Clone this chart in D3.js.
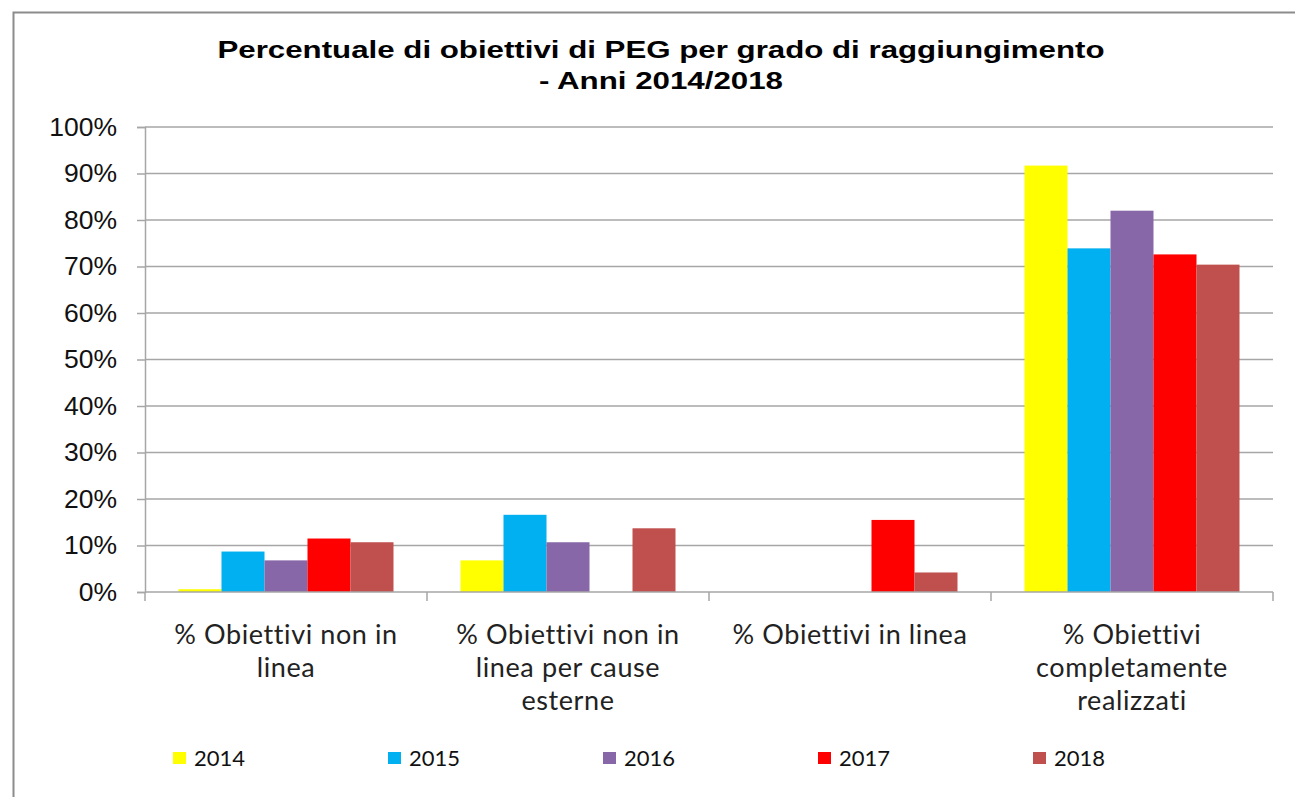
<!DOCTYPE html>
<html>
<head>
<meta charset="utf-8">
<script src="https://cdn.jsdelivr.net/npm/d3@7"></script>
<style>
  html, body { margin: 0; padding: 0; background: #fff; }
  svg { display: block; }
</style>
</head>
<body>
<svg id="chart" width="1295" height="797"></svg>
<script>
// data
const categories = [
  "% Obiettivi non in linea",
  "% Obiettivi non in linea per cause esterne",
  "% Obiettivi in linea",
  "% Obiettivi completamente realizzati",
];
const categoryLines = [
  ["% Obiettivi non in", "linea"],
  ["% Obiettivi non in", "linea per cause", "esterne"],
  ["% Obiettivi in linea"],
  ["% Obiettivi", "completamente", "realizzati"],
];
const years = ["2014", "2015", "2016", "2017", "2018"];
const values2014 = [0.006, 0.068, 0, 0.917];
const values2015 = [0.087, 0.166, 0, 0.739];
const values2016 = [0.068, 0.107, 0, 0.820];
const values2017 = [0.115, 0, 0.155, 0.726];
const values2018 = [0.107, 0.137, 0.042, 0.704];
const yTicks = [0, 0.1, 0.2, 0.3, 0.4, 0.5, 0.6, 0.7, 0.8, 0.9, 1];
const titleLines = ["Percentuale di obiettivi di PEG per grado di raggiungimento", "- Anni 2014/2018"];

const seriesValues = [values2014, values2015, values2016, values2017, values2018];
const colors = ["#FFFF00", "#00B0F0", "#8767A7", "#FF0000", "#C0504D"];

// canvas settings
const PLOT_LEFT = 145;
const PLOT_RIGHT = 1273;
const PLOT_TOP = 127;
const PLOT_BOTTOM = 592;
const GRID_COLOR = "#a6a6a6";
const SANS = "'Liberation Sans', Arial, sans-serif";
const BODY = "Lato, 'Open Sans', sans-serif";

const svg = d3.select("#chart");

// outer frame
svg.append("rect")
  .attr("x", 13.5).attr("y", 12.5)
  .attr("width", 1400).attr("height", 900)
  .attr("fill", "none")
  .attr("stroke", "#8c8c8c")
  .attr("stroke-width", 2);

// title
const title = svg.append("text")
  .attr("text-anchor", "middle")
  .attr("font-family", SANS)
  .attr("font-weight", "bold")
  .attr("font-size", 23)
  .attr("fill", "#000");
title.append("tspan").attr("x", 661).attr("y", 58)
  .attr("textLength", 887).attr("lengthAdjust", "spacingAndGlyphs")
  .text(titleLines[0]);
title.append("tspan").attr("x", 661).attr("y", 89)
  .attr("textLength", 244).attr("lengthAdjust", "spacingAndGlyphs")
  .text(titleLines[1]);

// scales
const x0 = d3.scaleBand().domain(categories).range([PLOT_LEFT, PLOT_RIGHT]).padding(0);
const barInset = 33.5;
const x1 = d3.scaleBand().domain(years).range([barInset, x0.bandwidth() - barInset]).padding(0);
const y = d3.scaleLinear().domain([0, 1]).range([PLOT_BOTTOM, PLOT_TOP]);

// gridlines
svg.append("g")
  .selectAll("line")
  .data(yTicks.filter((d) => d > 0))
  .join("line")
  .attr("x1", PLOT_LEFT).attr("x2", PLOT_RIGHT)
  .attr("y1", (d) => y(d)).attr("y2", (d) => y(d))
  .attr("stroke", GRID_COLOR)
  .attr("stroke-width", 1.5);

// y axis
const yAxis = svg.append("g")
  .attr("transform", `translate(${PLOT_LEFT},0)`)
  .call(d3.axisLeft(y).tickValues(yTicks).tickFormat(d3.format(".0%")).tickSize(8).tickPadding(20));
yAxis.select(".domain").attr("stroke", GRID_COLOR).attr("stroke-width", 1.5);
yAxis.selectAll(".tick line").attr("stroke", GRID_COLOR).attr("stroke-width", 1.5);
yAxis.selectAll(".tick text")
  .attr("font-family", SANS)
  .attr("font-size", 26.5)
  .attr("fill", "#111");

// bars
const groups = svg.append("g")
  .selectAll("g")
  .data(categories)
  .join("g")
  .attr("transform", (d) => `translate(${x0(d)},0)`);

groups.selectAll("rect")
  .data((c, i) => years.map((yr, k) => ({ yr, k, v: seriesValues[k][i] })))
  .join("rect")
  .filter((d) => d.v > 0)
  .attr("x", (d) => x1(d.yr))
  .attr("y", (d) => y(d.v))
  .attr("width", x1.bandwidth())
  .attr("height", (d) => y(0) - y(d.v))
  .attr("fill", (d) => colors[d.k]);

// x axis
const xAxis = svg.append("g")
  .attr("transform", `translate(0,${PLOT_BOTTOM})`);
xAxis.append("line")
  .attr("x1", PLOT_LEFT).attr("x2", PLOT_RIGHT)
  .attr("stroke", GRID_COLOR).attr("stroke-width", 1.5);
xAxis.selectAll(".xtick")
  .data(categories.map((c) => x0(c)).concat([PLOT_RIGHT]))
  .join("line")
  .attr("class", "xtick")
  .attr("x1", (d) => d).attr("x2", (d) => d)
  .attr("y1", 0).attr("y2", 9)
  .attr("stroke", GRID_COLOR).attr("stroke-width", 1.5);

// category labels, one text per line
const catLabels = svg.append("g");
categories.forEach((c, i) => {
  categoryLines[i].forEach((line, j) => {
    catLabels.append("text")
      .attr("text-anchor", "middle")
      .attr("font-family", BODY)
      .attr("font-size", 27)
      .attr("letter-spacing", 0.6)
      .attr("fill", "#222")
      .attr("x", x0(c) + x0.bandwidth() / 2)
      .attr("y", 644 + j * 33)
      .text(line);
  });
});

// legend
const legendX = d3.scalePoint().domain(years).range([173, 1033]);
const legend = svg.append("g")
  .selectAll("g")
  .data(years)
  .join("g")
  .attr("transform", (d) => `translate(${legendX(d)},752)`);
legend.append("rect")
  .attr("width", 13).attr("height", 12)
  .attr("fill", (d, i) => colors[i]);
legend.append("text")
  .attr("x", 21).attr("y", 13.5)
  .attr("font-family", "Lato, sans-serif")
  .attr("font-size", 22)
  .attr("fill", "#111")
  .text((d) => d);
</script>
</body>
</html>
